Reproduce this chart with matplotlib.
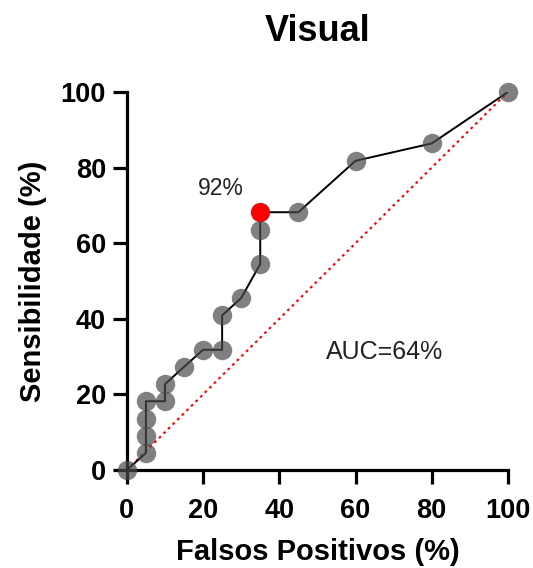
import matplotlib.pyplot as plt

plt.rcParams['font.family'] = ['Liberation Sans', 'DejaVu Sans']

# curva ROC (%)
fp = [0, 5, 5, 5, 5, 10, 10, 15, 20, 25, 25, 30, 35, 35, 35, 45, 60, 80, 100]
sens = [0, 4.5, 9.1, 13.6, 18.2, 18.2, 22.7, 27.3, 31.8, 31.8, 40.9, 45.5, 54.5, 63.6, 68.2, 68.2, 81.8, 86.4, 100]
corte_fp = 35
corte_sens = 68.2

fig = plt.figure(figsize=(5.33, 5.68), dpi=100)
ax = fig.add_axes([0.238, 0.1725, 0.715, 0.6655])

ax.plot([0, 100], [0, 100], color='red', linestyle=(0, (1.3, 1.8)), lw=1.5, zorder=1)
ax.plot(fp, sens, color='black', lw=1.4, zorder=2)
ax.plot(fp, sens, 'o', color='#4a4a4a', alpha=0.7, ms=14, mec='none', zorder=3, clip_on=False)
ax.plot([corte_fp], [corte_sens], 'o', color='red', ms=12.5, zorder=4)

ax.text(24.7, 74.6, '92%', fontsize=16.5, ha='center', va='center', color='#222222')
ax.text(67.5, 31.2, 'AUC=64%', fontsize=18, ha='center', va='center', color='#222222')

ax.set_xlim(0, 100)
ax.set_ylim(0, 100)
ax.set_xticks([0, 20, 40, 60, 80, 100])
ax.set_yticks([0, 20, 40, 60, 80, 100])
for s in ['top', 'right']:
    ax.spines[s].set_visible(False)
for s in ['left', 'bottom']:
    ax.spines[s].set_linewidth(2.3)
ax.tick_params(width=2.3, length=10, labelsize=19.5, pad=5)
ax.tick_params(axis='x', pad=10)
for lab in ax.get_xticklabels() + ax.get_yticklabels():
    lab.set_fontweight('bold')

ax.set_xlabel('Falsos Positivos (%)', fontsize=21, fontweight='bold', labelpad=10)
ax.set_ylabel('Sensibilidade (%)', fontsize=21, fontweight='bold', labelpad=10)
ax.set_title('Visual', fontsize=26, fontweight='bold', pad=37)

fig.savefig('out.png', dpi=100)
